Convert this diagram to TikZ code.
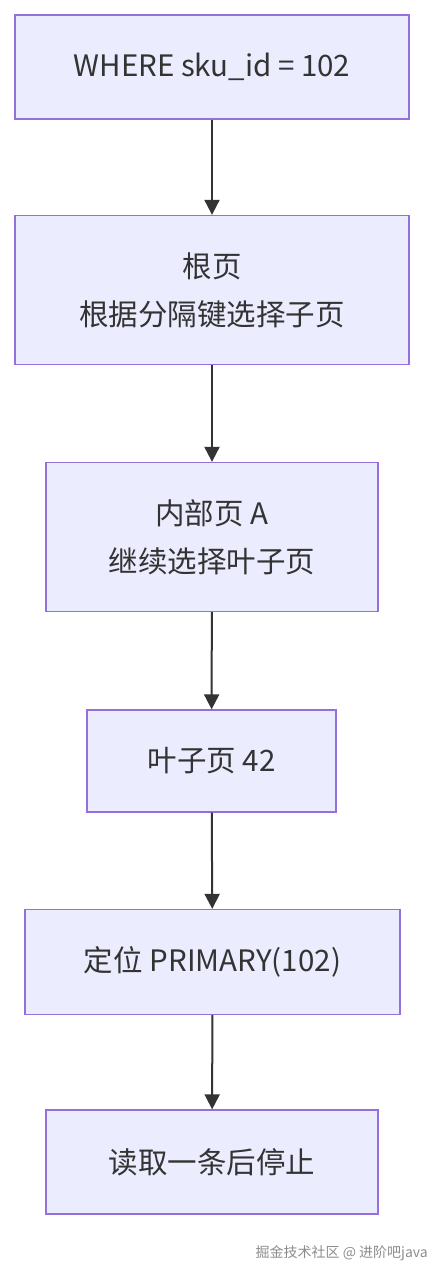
\documentclass[tikz,border=0pt]{standalone}
\usepackage{fontspec}
\setmainfont{Noto Sans CJK SC}
\usetikzlibrary{arrows.meta}
\definecolor{boxfill}{HTML}{ECECFF}
\definecolor{boxline}{HTML}{9370DB}
\definecolor{ink}{HTML}{333333}

\tikzset{
  pagebox/.style={rectangle,draw=boxline,fill=boxfill,line width=1.3pt,text=ink,
    align=center,inner sep=0pt,font=\fontsize{29.5}{48}\selectfont},
  flow/.style={-{Triangle[length=15pt,width=15pt]},draw=ink,line width=2pt}
}

\begin{document}
\begin{tikzpicture}[x=1pt,y=-1pt]
\useasboundingbox (0,0) rectangle (440,1276);

% Query
\node[pagebox,minimum width=394pt,minimum height=104pt] (query) at (212,67) {WHERE sku\_id = 102};

% Root and internal page
\node[pagebox,minimum width=394pt,minimum height=149pt] (root) at (212,290) {根页\\根据分隔键选择子页};
\node[pagebox,minimum width=332pt,minimum height=149pt] (inner) at (212,537) {内部页 A\\继续选择叶子页};

% Leaf page
\node[pagebox,minimum width=249pt,minimum height=102pt] (leaf) at (211.5,761) {叶子页 42};

% Locate and read
\node[pagebox,minimum width=375pt,minimum height=105pt] (locate) at (212.5,962) {定位 PRIMARY(102)};
\node[pagebox,minimum width=332pt,minimum height=104pt] (read) at (212,1162) {读取一条后停止};

% Watermark
\node[anchor=east,text=black!45,font=\fontsize{14}{16}\selectfont,inner sep=0pt] (mark) at (428,1253) {掘金技术社区 @ 进阶吧java};

% Connections
\draw[flow] (query) -- (root);
\draw[flow] (root) -- (inner);
\draw[flow] (inner) -- (leaf);
\draw[flow] (leaf) -- (locate);
\draw[flow] (locate) -- (read);
\end{tikzpicture}
\end{document}
